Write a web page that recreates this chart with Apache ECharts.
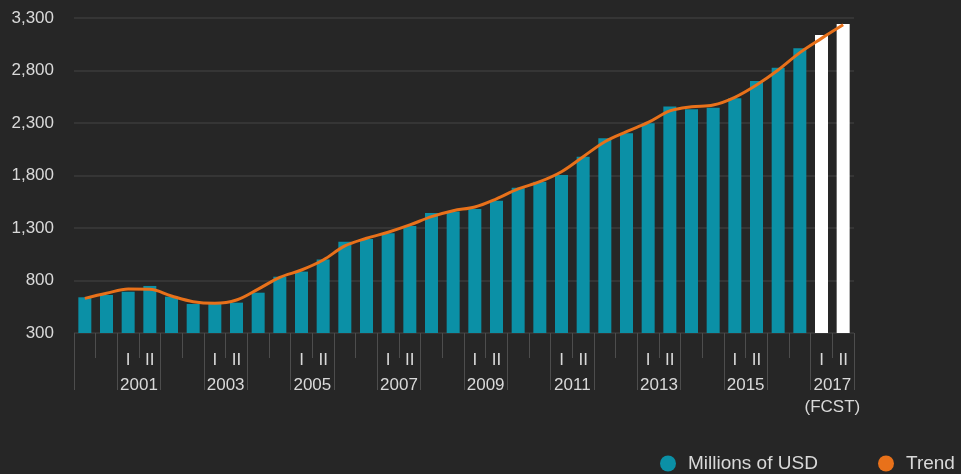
<!DOCTYPE html>
<html>
<head>
<meta charset="utf-8">
<script src="https://cdn.jsdelivr.net/npm/echarts@6/dist/echarts.min.js"></script>
<style>
  html, body { margin: 0; padding: 0; background: #262626; }
  #chart { width: 961px; height: 474px; }
</style>
</head>
<body>
<div id="chart"></div>
<script>
// Half-year periods, 2000 I – 2017 II (2017 is forecast)
const halfCategories = [
  '2000-I','2000-II','2001-I','2001-II','2002-I','2002-II','2003-I','2003-II',
  '2004-I','2004-II','2005-I','2005-II','2006-I','2006-II','2007-I','2007-II',
  '2008-I','2008-II','2009-I','2009-II','2010-I','2010-II','2011-I','2011-II',
  '2012-I','2012-II','2013-I','2013-II','2014-I','2014-II','2015-I','2015-II',
  '2016-I','2016-II','2017-I','2017-II'
];
const yearCategories = [
  '2000','2001','2002','2003','2004','2005','2006','2007','2008',
  '2009','2010','2011','2012','2013','2014','2015','2016','2017'
];
const labeledYears = ['2001','2003','2005','2007','2009','2011','2013','2015','2017'];
const forecastYear = '2017';

// Millions of USD per half-year
const values = [
  640, 662, 693, 748, 646, 576, 576, 589, 684, 836,
  885, 1000, 1170, 1195, 1250, 1320, 1443, 1458, 1480, 1560,
  1683, 1741, 1805, 1979, 2154, 2202, 2297, 2458, 2430, 2446,
  2535, 2700, 2827, 3011, 3138, 3243
];
// Smoothed trend
const trend = [
  630, 678, 718, 716, 652, 598, 583, 614, 718, 830,
  900, 995, 1129, 1202, 1260, 1329, 1408, 1465, 1500, 1578,
  1672, 1741, 1836, 1979, 2122, 2217, 2305, 2415, 2455, 2471,
  2545, 2662, 2805, 2970, 3106, 3235
];

const TEAL = '#0b90a6';
const ORANGE = '#e8711a';
const TEXT = '#d9d9d9';
const FONT = '"Liberation Sans", Arial, sans-serif';

const barData = values.map((v, i) => ({
  value: v,
  itemStyle: { color: halfCategories[i].startsWith(forecastYear) ? '#ffffff' : TEAL }
}));

const chart = echarts.init(document.getElementById('chart'), null, { renderer: 'canvas' });

chart.setOption({
  backgroundColor: '#262626',
  animation: false,
  textStyle: { fontFamily: FONT },
  grid: { left: 74, right: 107, top: 18, bottom: 141 },
  legend: [
    {
      data: ['Millions of USD'],
      left: 655, top: 449,
      icon: 'circle', itemWidth: 30, itemHeight: 16,
      textStyle: { color: TEXT, fontSize: 19, fontFamily: FONT }
    },
    {
      data: ['Trend'],
      left: 873, top: 449,
      icon: 'circle', itemWidth: 30, itemHeight: 16,
      textStyle: { color: TEXT, fontSize: 19, fontFamily: FONT }
    }
  ],
  xAxis: [
    {
      type: 'category',
      data: halfCategories,
      position: 'bottom',
      axisLine: { show: false },
      axisTick: { show: true, interval: 0, length: 25, lineStyle: { color: '#4d4d4d', width: 1 } },
      axisLabel: {
        interval: 0,
        margin: 19,
        color: TEXT,
        fontSize: 17,
        fontFamily: FONT,
        formatter: (v) => {
          const [y, h] = v.split('-');
          return labeledYears.includes(y) ? h : '';
        }
      },
      splitLine: { show: false }
    },
    {
      type: 'category',
      data: yearCategories,
      position: 'bottom',
      axisLine: { show: false },
      axisTick: { show: true, interval: 0, length: 57, lineStyle: { color: '#4d4d4d', width: 1 } },
      axisLabel: {
        interval: 0,
        margin: 41,
        color: TEXT,
        fontSize: 17,
        lineHeight: 22,
        fontFamily: FONT,
        formatter: (v) => {
          if (!labeledYears.includes(v)) return '';
          return v === forecastYear ? v + '\n(FCST)' : v;
        }
      },
      splitLine: { show: false }
    }
  ],
  yAxis: {
    type: 'value',
    min: 300,
    max: 3300,
    interval: 500,
    axisLine: { show: false },
    axisTick: { show: false },
    axisLabel: {
      color: TEXT,
      fontSize: 17,
      fontFamily: FONT,
      margin: 20,
      formatter: (v) => v.toLocaleString('en-US')
    },
    splitLine: { lineStyle: { color: '#353535', width: 2 } }
  },
  series: [
    {
      name: 'Millions of USD',
      type: 'bar',
      xAxisIndex: 0,
      data: barData,
      barWidth: 13,
      itemStyle: { color: TEAL }
    },
    {
      name: 'Trend',
      type: 'line',
      xAxisIndex: 0,
      data: trend,
      smooth: 0.35,
      symbol: 'none',
      lineStyle: { color: ORANGE, width: 3 },
      itemStyle: { color: ORANGE }
    }
  ]
});
</script>
</body>
</html>
